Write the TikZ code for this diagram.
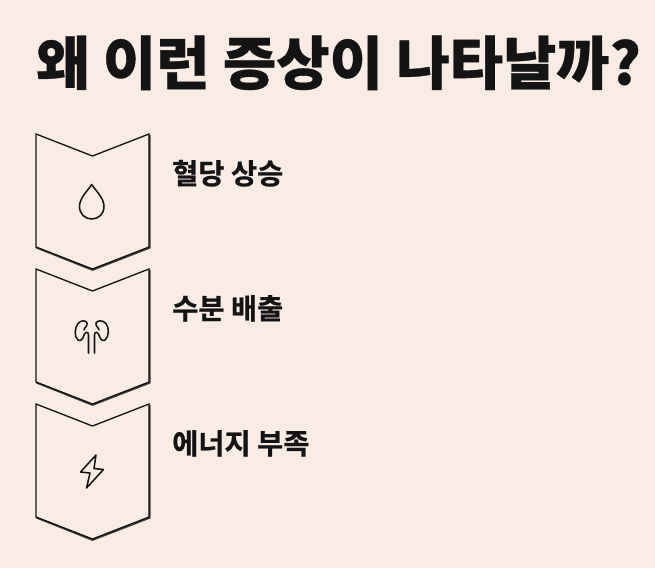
\documentclass[tikz,border=0pt]{standalone}
\usepackage{fontspec}
\newfontfamily\krfont{Noto Sans CJK KR Black}[FakeBold=0.6]
\newfontfamily\krlabel{Noto Sans CJK KR Bold}[FakeBold=0.8]
\definecolor{bgc}{HTML}{F9ECE5}
\definecolor{ink}{HTML}{141414}
\tikzset{
  px/.style={x=0.75pt,y=-0.75pt},
  shield/.style={draw=ink,line width=1pt,line join=miter},
  shieldshadow/.style={draw=ink!80!bgc,line width=1.3pt,line join=miter},
  iconline/.style={draw=ink,line width=1.15pt,line join=round,line cap=round},
  heading/.style={anchor=base west,inner sep=0pt,text=ink,font=\krfont\fontsize{43.5pt}{50pt}\selectfont},
  steplabel/.style={anchor=base west,inner sep=0pt,text=ink,font=\krlabel\fontsize{21.3pt}{26pt}\selectfont},
}
\begin{document}
\begin{tikzpicture}[px]
\useasboundingbox[fill=bgc] (0,0) rectangle (655,568);
\node[heading] (title) at (36,84.5) {왜 이런 증상이 나타날까?};
\foreach \t/\n in {134/a,269/b,404/c}{
  \begin{scope}[yshift=-0.75pt*\t]
    \draw[shieldshadow] (149.8,0.8) -- (149.8,113.8) -- (92.5,136) -- (36.3,113.6);
    \draw[shield] (36,0) -- (92.5,22) -- (149,0) -- (149,113) -- (92.5,135) -- (36,113) -- cycle;
  \end{scope}
}
\node[steplabel] (la) at (172,184) {혈당 상승};
\node[steplabel] (lb) at (172,319) {수분 배출};
\node[steplabel] (lc) at (172,454) {에너지 부족};
% droplet
\draw[iconline] (91.7,184.5) .. controls (96,191) and (104,198) .. (104,206.5)
  .. controls (104,214) and (98.5,219) .. (91.7,219)
  .. controls (85,219) and (79.5,214) .. (79.5,206.5)
  .. controls (79.5,198) and (87.5,191) .. (91.7,184.5) -- cycle;
% kidneys
\draw[iconline] (88.5,353) -- (88.5,335) .. controls (88.5,331) and (85,332) .. (84,335)
  .. controls (83,339.5) and (80,341.5) .. (78,340)
  .. controls (74,337) and (74.5,328) .. (78,323.5)
  .. controls (81,320) and (86,320) .. (87,323)
  .. controls (88,326) and (84,327.5) .. (84,330);
\draw[iconline] (94.5,353) -- (94.5,335) .. controls (94.5,331) and (98,332) .. (99,335)
  .. controls (100,339.5) and (103,341.5) .. (105,340)
  .. controls (109,337) and (109.5,328) .. (106,323.5)
  .. controls (103,320) and (97,320) .. (96,323)
  .. controls (95,326) and (99,327.5) .. (99,330);
% bolt
\draw[iconline] (96,455) -- (80.5,472) -- (90,473) -- (86.5,488) -- (103.5,469.5) -- (94,468.5) -- cycle;
\end{tikzpicture}
\end{document}
